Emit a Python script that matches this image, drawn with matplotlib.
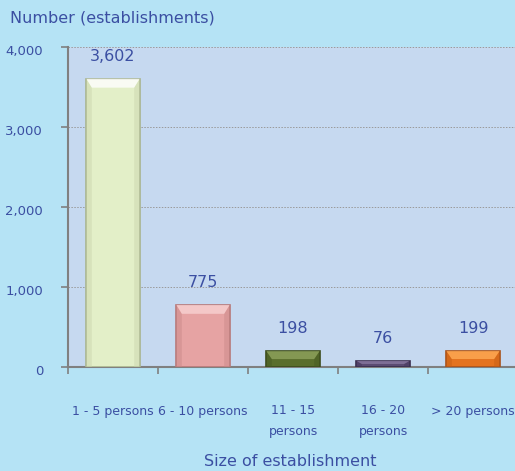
import matplotlib

matplotlib.use("Agg")
import matplotlib.pyplot as plt
import matplotlib.transforms as mtransforms
from matplotlib.patches import Polygon

categories = ["1 - 5 persons", "6 - 10 persons", "11 - 15\npersons", "16 - 20\npersons", "> 20 persons"]
values = [3602, 775, 198, 76, 199]
bar_colors = ["#e3efc8", "#e6a3a3", "#5a6e2c", "#5b4b72", "#e4731f"]
edge_colors = ["#a9b48e", "#b77878", "#3d4c1c", "#3a2e4d", "#a9521a"]
top_colors = ["#ffffff", "#f8d2d2", "#8fa35e", "#8878a0", "#ffab55"]
side_colors = ["#c9d4ac", "#c98888", "#465822", "#43365a", "#c45e14"]
y_ticks = [0, 1000, 2000, 3000, 4000]

TEXT = "#3b4fa2"
FIG_BG = "#b5e3f5"
AX_BG = "#c6d9f0"

fig = plt.figure(figsize=(5.15, 4.71), dpi=100, facecolor=FIG_BG)
ax = fig.add_axes([68 / 515, 104 / 471, 450 / 515, 320 / 471], facecolor=AX_BG)

x = list(range(len(values)))
width = 0.59
ax.bar(x, values, width=width, color=bar_colors, edgecolor=edge_colors, linewidth=1.2, zorder=3)

# bevel: darker sides, light top strip
for xi, v, c, sc in zip(x, values, top_colors, side_colors):
    h = min(110, v * 0.5)
    inset = 0.06
    left, right = xi - width / 2, xi + width / 2
    for pts in ([(left, 0), (left, v), (left + inset, v - h), (left + inset, 0)],
                [(right, 0), (right, v), (right - inset, v - h), (right - inset, 0)]):
        ax.add_patch(Polygon(pts, closed=True, facecolor=sc, edgecolor="none", alpha=0.45, zorder=4))
    ax.add_patch(Polygon(
        [(left, v), (right, v), (right - inset, v - h), (left + inset, v - h)],
        closed=True, facecolor=c, edgecolor="none", alpha=0.8, zorder=4,
    ))

for xi, v in zip(x, values):
    ax.annotate(f"{v:,}", (xi, v), xytext=(0, 16), textcoords="offset points",
                ha="center", va="center", fontsize=11.5, color=TEXT)

ax.set_xlim(-0.5, len(values) - 0.5)
ax.set_ylim(0, 4000)
ax.set_yticks(y_ticks)
ax.set_yticklabels([f"{t:,}" for t in y_ticks])
ax.yaxis.grid(True, color="#9a9a9a", linestyle=(0, (1.5, 1.5)), linewidth=0.7, zorder=0)
ax.set_axisbelow(True)

ax.set_xticks(x)
ax.set_xticklabels(categories, fontsize=9, color=TEXT, linespacing=1.8, va="top")
ax.tick_params(axis="x", which="major", length=0, pad=27)
ax.set_xticks([i - 0.5 for i in range(len(values) + 1)], minor=True)
ax.tick_params(axis="x", which="minor", length=5, width=1.2, color="#808080", direction="out")
ax.tick_params(axis="y", length=5, width=1.2, color="#808080", pad=13, labelsize=9.5, labelcolor=TEXT)
shift = mtransforms.ScaledTranslation(0, -3 / 100, fig.dpi_scale_trans)
for lbl in ax.get_yticklabels():
    lbl.set_transform(lbl.get_transform() + shift)

for s in ["top", "right"]:
    ax.spines[s].set_visible(False)
ax.spines["left"].set_color("#808080")
ax.spines["left"].set_linewidth(1.5)
ax.spines["bottom"].set_color("#808080")
ax.spines["bottom"].set_linewidth(1.5)

fig.text(10 / 515, 1 - 18 / 471, "Number (establishments)", fontsize=11.5, color=TEXT, ha="left", va="center")
fig.text(290 / 515, 1 - 461 / 471, "Size of establishment", fontsize=11.5, color=TEXT, ha="center", va="center")

fig.savefig("out.png", dpi=100, facecolor=FIG_BG)
